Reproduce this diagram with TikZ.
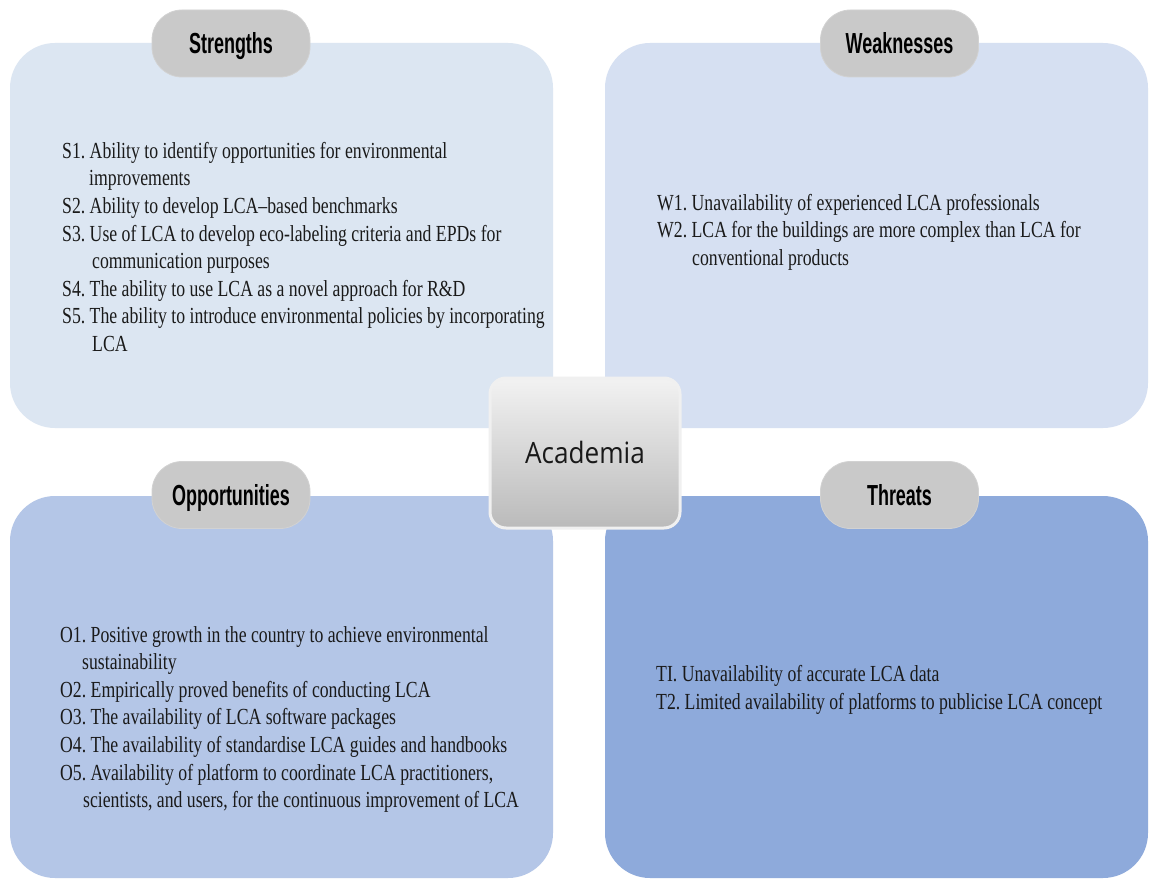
\documentclass[tikz,border=0pt]{standalone}
\usepackage{fontspec}
\setmainfont{Liberation Serif}[FakeStretch=0.77]
\newfontfamily\tabfont{Liberation Sans}[FakeStretch=0.62]
\newfontfamily\centrefont{Open Sans}[FakeStretch=0.89]
\frenchspacing

\definecolor{sfill}{HTML}{DCE6F2}
\definecolor{wfill}{HTML}{D6E0F2}
\definecolor{ofill}{HTML}{B4C6E7}
\definecolor{tfill}{HTML}{8EAADB}
\definecolor{tabgrey}{HTML}{C9C9C9}
\definecolor{tabrim}{HTML}{D2D2D2}
\definecolor{txt}{HTML}{1A1A1A}

\begin{document}
\begin{tikzpicture}[x=1pt,y=-1pt,
  quad/.style={rounded corners=45pt, inner sep=0pt, minimum width=543pt},
  tab/.style={fill=tabgrey, draw=tabrim, line width=0.8pt, rounded corners=30pt,
    minimum width=158pt, minimum height=67pt, inner sep=0pt,
    font=\tabfont\bfseries\fontsize{29}{29}\selectfont,
    text height=20pt, text depth=0pt, text=black},
  items/.style={anchor=north west, inner sep=0pt, align=left, text=txt,
    font=\fontsize{23}{27.6}\selectfont},
  hub/.style={rounded corners=16pt, draw=black!6, line width=3pt,
    top color=black!5, bottom color=black!27,
    minimum width=190pt, minimum height=150pt, inner sep=0pt,
    font=\centrefont\fontsize{29.4}{30}\selectfont,
    text height=21pt, text depth=0pt, text=black!90}]

\useasboundingbox (0,0) rectangle (1149,880);
\fill[white] (0,0) rectangle (1149,880);

% four quadrant panels
\node[quad, fill=sfill, minimum height=385pt] (sbox) at (281.5,235.5) {};
\node[quad, fill=wfill, minimum height=385pt] (wbox) at (876.5,235.5) {};
\node[quad, fill=ofill, minimum height=382pt] (obox) at (281.5,687) {};
\node[quad, fill=tfill, minimum height=382pt] (tbox) at (876.5,687) {};

% headings
\node[tab] (stab) at (231,43.5) {Strengths};
\node[tab] (wtab) at (899.5,43.5) {Weaknesses};
\node[tab] (otab) at (231,495) {Opportunities};
\node[tab] (ttab) at (899.5,495) {Threats};

% item lists
\node[items] (stext) at (62,142) {%
S1. Ability to identify opportunities for environmental\\
\hspace*{27pt}improvements\\
S2. Ability to develop LCA--based benchmarks\\
S3. Use of LCA to develop eco-labeling criteria and EPDs for\\
\hspace*{30pt}communication purposes\\
S4. The ability to use LCA as a novel approach for R\&D\\
S5. The ability to introduce environmental policies by incorporating\\
\hspace*{30pt}LCA};

\node[items] (wtext) at (657,194) {%
W1. Unavailability of experienced LCA professionals\\
W2. LCA for the buildings are more complex than LCA for\\
\hspace*{35pt}conventional products};

\node[items] (otext) at (60,626) {%
O1. Positive growth in the country to achieve environmental\\
\hspace*{22pt}sustainability\\
O2. Empirically proved benefits of conducting LCA\\
O3. The availability of LCA software packages\\
O4. The availability of standardise LCA guides and handbooks\\
O5. Availability of platform to coordinate LCA practitioners,\\
\hspace*{23pt}scientists, and users, for the continuous improvement of LCA};

\node[items] (ttext) at (656,665) {%
TI. Unavailability of accurate LCA data\\
T2. Limited availability of platforms to publicise LCA concept};

% central label
\node[hub] (hub) at (585,453) {Academia};

\end{tikzpicture}
\end{document}
